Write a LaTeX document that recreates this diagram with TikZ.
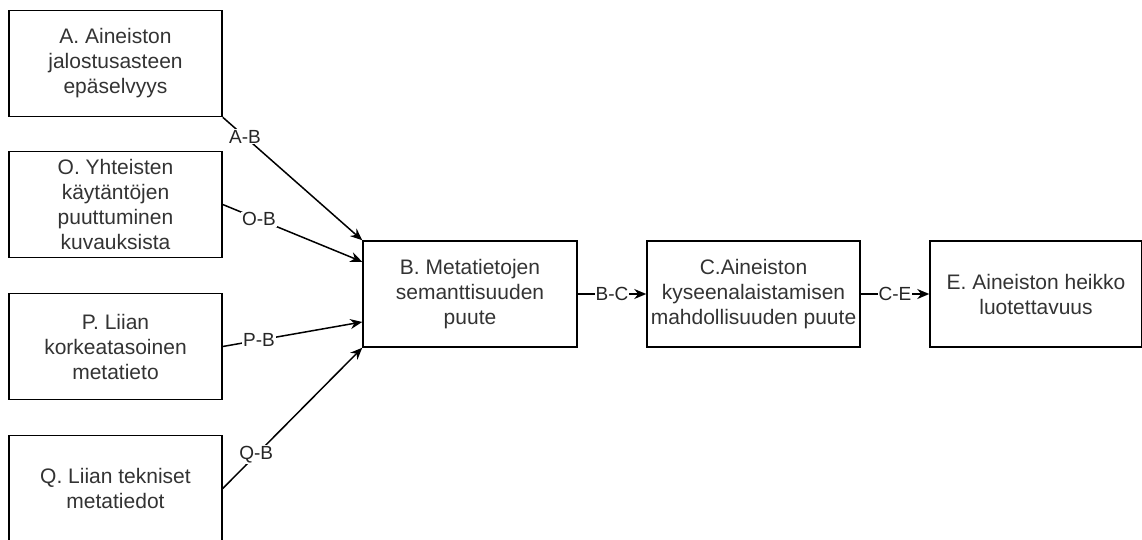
\documentclass[tikz,border=0pt]{standalone}
\usepackage{fontspec}
\setmainfont{Liberation Sans}
\usetikzlibrary{arrows.meta,calc}
\begin{document}
\begin{tikzpicture}[x=1pt,y=-1pt,
  box/.style={draw, line width=1.5pt, minimum width=213pt, minimum height=106pt,
    align=center, font=\fontsize{21}{25}\selectfont, text=black!80, inner sep=0pt},
  conn/.style={line width=1.5pt, -{Stealth[length=12pt,width=10pt]}},
  lbl/.style={fill=white, inner sep=1pt, font=\fontsize{19}{22}\selectfont, text=black!85}]
\useasboundingbox (0,0) rectangle (1142,539);
\clip (0,0) rectangle (1142,539);
\node[box] (A) at (115.5,63.5) {A. Aineiston\\jalostusasteen\\epäselvyys};
\node[box] (O) at (115.5,204.5) {O. Yhteisten\\käytäntöjen\\puuttuminen\\kuvauksista};
\node[box] (P) at (115.5,346.5) {P. Liian\\korkeatasoinen\\metatieto};
\node[box] (Q) at (115.5,488.5) {Q. Liian tekniset\\metatiedot};
\node[box, minimum width=214pt] (B) at (470,294) {B. Metatietojen\\semanttisuuden\\puute};
\node[box] (C) at (753.5,294) {C.Aineiston\\kyseenalaistamisen\\mahdollisuuden puute};
\node[box, minimum width=212pt] (E) at (1036,294) {E. Aineiston heikko\\luotettavuus};
\coordinate (Bo) at ($(B.north west)!0.2!(B.south west)$);
\coordinate (Bp) at ($(B.north west)!0.76!(B.south west)$);
\draw[conn] (A.south east) -- node[lbl, pos=0.16] {A-B} (B.north west);
\draw[conn] (O.east) -- node[lbl, pos=0.26] {O-B} (Bo);
\draw[conn] (P.east) -- node[lbl, pos=0.26] {P-B} (Bp);
\draw[conn] (Q.east) -- node[lbl, pos=0.24] {Q-B} (B.south west);
\draw[conn] (B.east) -- node[lbl] {B-C} (C.west);
\draw[conn] (C.east) -- node[lbl] {C-E} (E.west);
\end{tikzpicture}
\end{document}
